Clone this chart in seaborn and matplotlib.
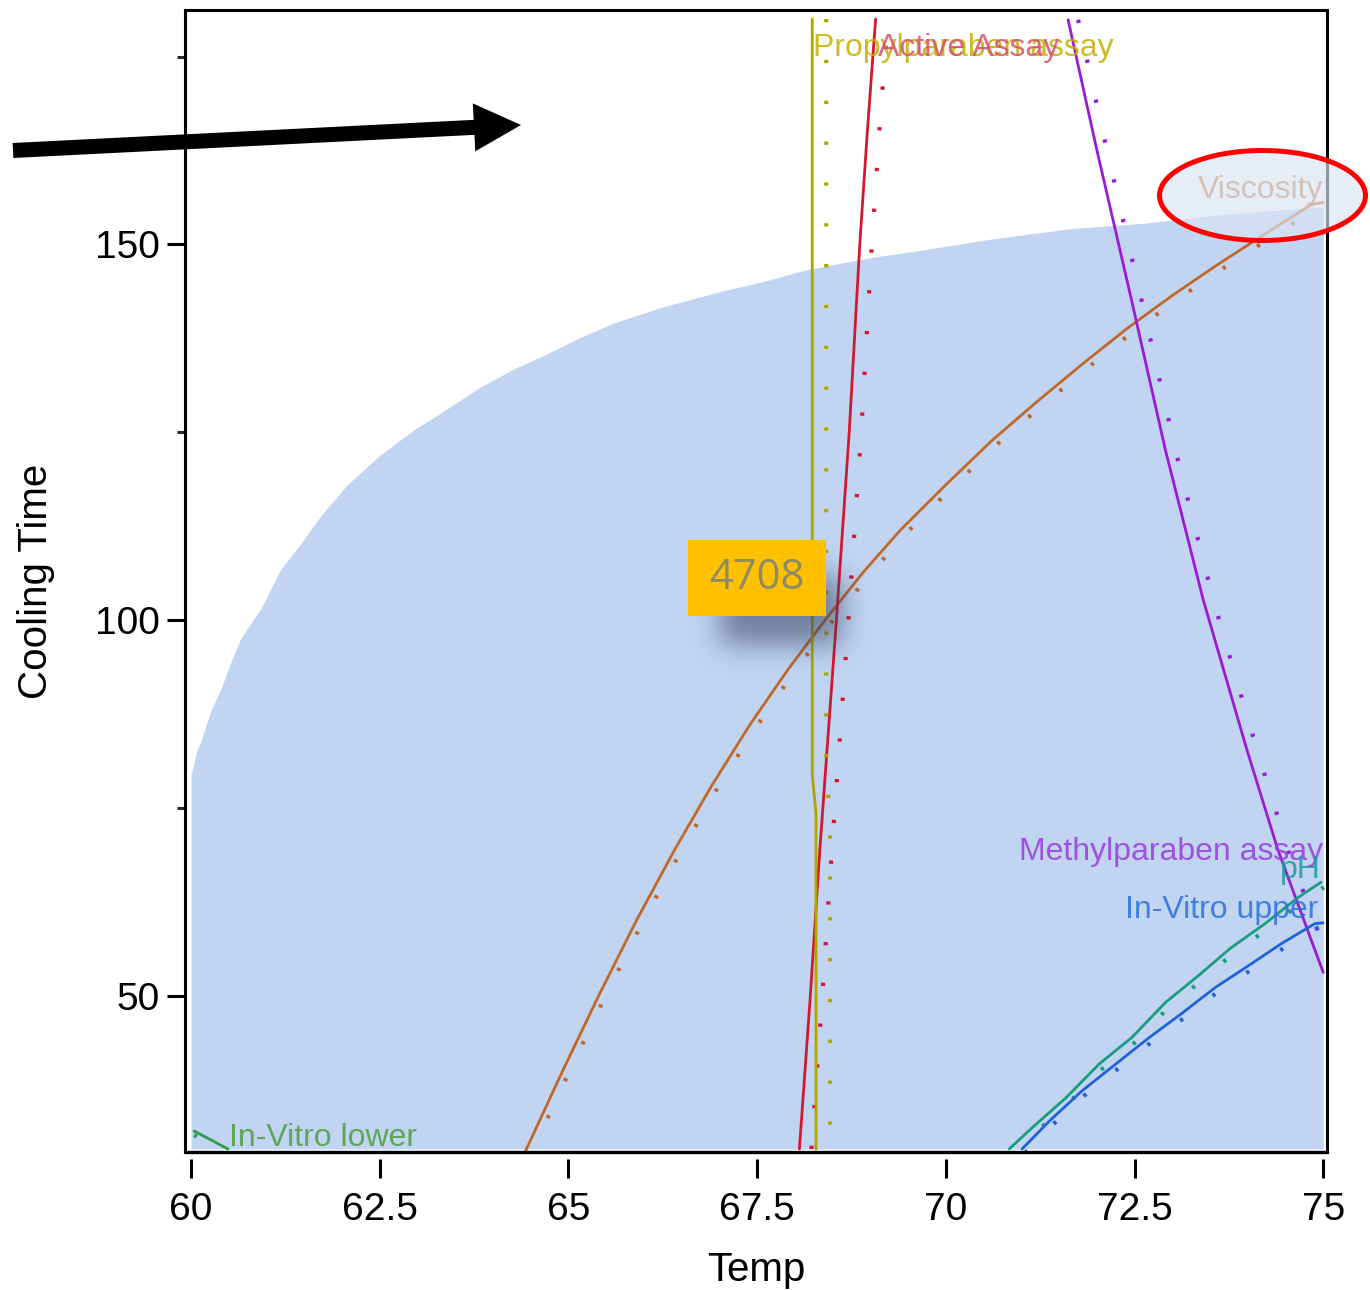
import numpy as np
import pandas as pd
import matplotlib
matplotlib.use("Agg")
import matplotlib.pyplot as plt
import matplotlib.transforms as mtransforms
from matplotlib.patches import Rectangle, Ellipse, FancyArrow
import seaborn as sns

# ---------------- data (read off the contour profiler) ----------------
# upper edge of the shaded (feasible) region
region_temp = [60.0, 60.03, 60.07, 60.13, 60.26, 60.40, 60.53, 60.66, 60.93, 61.19,
               61.45, 61.72, 62.07, 62.51, 62.95, 63.39, 63.83, 64.27, 64.71, 65.15,
               65.59, 66.22, 67.04, 67.6, 68.1, 68.6, 69.1, 69.66, 70.59, 71.65,
               72.6, 73.3, 73.8, 74.3, 75.0]
region_time = [79.5, 80.5, 82.4, 83.9, 87.9, 90.9, 94.5, 97.6, 101.6, 106.8,
               110.1, 113.9, 118.0, 122.0, 125.3, 128.1, 131.0, 133.4, 135.4, 137.6,
               139.5, 141.6, 143.8, 145.1, 146.5, 147.5, 148.4, 149.2, 150.7, 152.1,
               152.8, 153.6, 154.1, 154.5, 155.0]

visc_temp = [64.43, 64.9, 65.4, 65.9, 66.4, 66.9, 67.4, 67.9, 68.4, 68.9,
             69.4, 70.0, 70.6, 71.2, 71.8, 72.4, 73.0, 73.6, 74.2, 74.84, 75.0]
visc_time = [29.3, 39.5, 50.0, 60.0, 69.3, 78.0, 86.0, 93.3, 100.0, 106.3,
             112.0, 118.0, 123.8, 129.0, 134.0, 138.8, 143.2, 147.3, 151.2, 155.3, 155.6]

active_temp = [68.06, 68.20, 68.33, 68.55, 68.72, 68.86, 68.96, 69.07]
active_time = [29.6, 49.3, 69.3, 100.0, 125.0, 150.0, 165.0, 180.0]

propyl_temp = [68.23, 68.23, 68.28, 68.28]
propyl_time = [180.0, 79.4, 74.3, 29.6]

methyl_temp = [71.62, 72.0, 72.46, 72.91, 73.41, 73.99, 74.40, 75.0]
methyl_time = [179.9, 162.6, 142.6, 122.6, 102.7, 82.7, 69.4, 53.1]

ph_temp = [70.84, 71.14, 71.59, 72.03, 72.46, 72.91, 73.35, 73.78, 74.23, 74.67, 74.97]
ph_time = [29.6, 32.4, 36.4, 40.9, 44.4, 49.1, 52.7, 56.4, 59.6, 63.1, 65.1]

ivu_temp = [71.01, 71.37, 71.80, 72.25, 72.69, 73.12, 73.57, 74.01, 74.44, 74.89, 75.0]
ivu_time = [29.6, 33.3, 37.3, 40.9, 44.4, 47.6, 51.1, 54.0, 56.9, 59.6, 59.7]

ivl_temp = [60.04, 60.49]
ivl_time = [32.0, 29.6]

xtick_vals = [60, 62.5, 65, 67.5, 70, 72.5, 75]
xtick_labels = ["60", "62.5", "65", "67.5", "70", "72.5", "75"]
ytick_major = [50, 100, 150]
ytick_minor = [75, 125, 175]

callout_value = "4708"

# ---------------- styling ----------------
sns.set_theme(style="white")
plt.rcParams["font.family"] = ["Liberation Sans", "DejaVu Sans"]

fig = plt.figure(figsize=(13.7, 12.9), dpi=100)
ax = fig.add_axes([185 / 1370, 1 - 1152 / 1290, 1142 / 1370, 1142 / 1290])
ax.set_xlim(59.92, 75.05)
ax.set_ylim(29.2, 181.2)

# shaded region
ax.fill_between(region_temp, 29.6, region_time, color="#C1D5F3", lw=0, zorder=1)

curves = [
    (visc_temp, visc_time, "#C0682A", (5, -4)),
    (active_temp, active_time, "#D0192E", (12, 0)),
    (propyl_temp, propyl_time, "#B3A300", (14, 0)),
    (methyl_temp, methyl_time, "#9A1AD6", (10, 0)),
    (ph_temp, ph_time, "#1A9C7E", (3, -5)),
    (ivu_temp, ivu_time, "#2063D8", (3, -4)),
    (ivl_temp, ivl_time, "#2E9E4E", (0, -4)),
]
for xs, ys, col, (ox, oy) in curves:
    df = pd.DataFrame({"Temp": xs, "Cooling Time": ys})
    sns.lineplot(data=df, x="Temp", y="Cooling Time", sort=False, estimator=None,
                 color=col, lw=2.0, ax=ax, zorder=3)
    off = mtransforms.offset_copy(ax.transData, fig=fig, x=ox, y=oy, units="dots")
    sns.lineplot(data=df, x="Temp", y="Cooling Time", sort=False, estimator=None,
                 color=col, lw=3.0, ls=(0, (0.8, 9)), dash_capstyle="butt",
                 transform=off, ax=ax, zorder=3)

# contour labels
lab_kw = dict(fontsize=23, zorder=4, va="center", alpha=0.85)
ax.text(68.24, 176.2, "Propylparaben assay", color="#C4B000", ha="left", **lab_kw)
ax.text(69.10, 176.2, "Active Assay", color="#D8506A", ha="left", **lab_kw)
ax.text(75.0, 157.3, "Viscosity", color="#C0682A", ha="right", **lab_kw)
ax.text(75.0, 69.1, "Methylparaben assay", color="#9A3ADE", ha="right", **lab_kw)
ax.text(74.97, 66.7, "pH", color="#1A9C9E", ha="right", **lab_kw)
ax.text(74.94, 61.4, "In-Vitro upper", color="#2A70E0", ha="right", **lab_kw)
ax.text(60.5, 31.0, "In-Vitro lower", color="#4E9E40", ha="left", **lab_kw)

# axes frame and ticks
for side in ["left", "top", "right"]:
    ax.spines[side].set_color("black")
    ax.spines[side].set_linewidth(2.2)
ax.spines["bottom"].set_position(("outward", 5))
ax.spines["bottom"].set_visible(False)
ax.axhline(29.2, color="black", lw=2.4, clip_on=False, zorder=5)

ax.set_xticks(xtick_vals)
ax.set_xticklabels(xtick_labels)
ax.set_yticks(ytick_major)
ax.set_yticks(ytick_minor, minor=True)
ax.tick_params(axis="x", which="major", bottom=True, direction="out", length=14,
               width=2.2, labelsize=28, pad=10, colors="black")
ax.tick_params(axis="y", which="major", left=True, direction="out", length=13,
               width=2.2, labelsize=28, pad=5, colors="black")
ax.tick_params(axis="y", which="minor", left=True, direction="out", length=6, width=2.2)
ax.set_xlabel("Temp", fontsize=29, color="black")
ax.set_ylabel("Cooling Time", fontsize=29, color="black")
ax.xaxis.set_label_coords(0.5, -0.087)
ax.yaxis.set_label_coords(-0.114, 0.5)

# ---------------- annotations (figure pixels) ----------------
px = mtransforms.IdentityTransform()
H = 1290

# soft drop shadow behind the callout box (separable blurred box)
def soft_box(n, lo, hi, sigma):
    idx = np.arange(n)
    box = ((idx >= lo) & (idx < hi)).astype(float)
    k = np.arange(-3 * sigma, 3 * sigma + 1)
    g = np.exp(-0.5 * (k / sigma) ** 2)
    return np.convolve(box, g / g.sum(), mode="same")

sx0, sy0, sw, sh = 650, 520, 260, 200          # image window (left, top, w, h)
ax_prof = soft_box(sw, 720 - sx0, 842 - sx0, 14)
ay_prof = soft_box(sh, 575 - sy0, 645 - sy0, 14)
shadow = np.zeros((sh, sw, 4))
shadow[..., 0] = 45 / 255
shadow[..., 1] = 58 / 255
shadow[..., 2] = 90 / 255
shadow[..., 3] = 0.55 * np.outer(ay_prof, ax_prof)
fig.figimage(shadow, xo=sx0, yo=H - sy0 - sh, origin="upper", zorder=5)

fig.add_artist(Rectangle((688, H - 616), 138, 76, transform=px, color="#FFC000",
                         lw=0, zorder=6))
fig.text(757, H - 578, callout_value, transform=px, ha="center", va="center",
         fontsize=30, color="#8E8A64", family=["Open Sans", "DejaVu Sans"], zorder=7)

fig.add_artist(Ellipse((1262.5, H - 195.5), 206, 90, transform=px,
                       facecolor=(219 / 255, 229 / 255, 244 / 255, 0.66),
                       edgecolor="#FF0000", lw=3.6, zorder=8))

fig.add_artist(FancyArrow(13, H - 150.5, 508, 25.5, width=15, head_width=48,
                          head_length=47, length_includes_head=True, transform=px,
                          color="black", lw=0, zorder=9))

fig.savefig("out.png", dpi=100)
